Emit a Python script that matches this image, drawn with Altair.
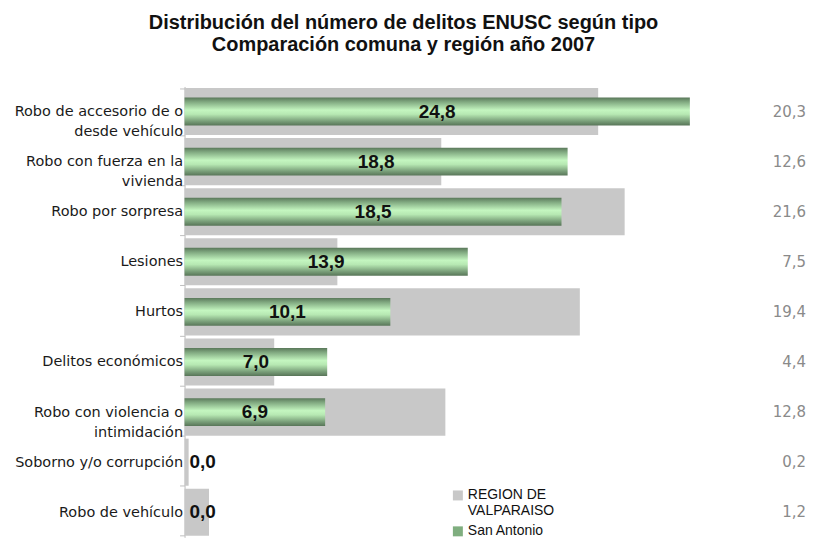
import altair as alt
import pandas as pd

categories = [
    "Robo de accesorio de o|desde vehículo",
    "Robo con fuerza en la|vivienda",
    "Robo por sorpresa",
    "Lesiones",
    "Hurtos",
    "Delitos económicos",
    "Robo con violencia o|intimidación",
    "Soborno y/o corrupción",
    "Robo de vehículo",
]
comuna = [24.8, 18.8, 18.5, 13.9, 10.1, 7.0, 6.9, 0.0, 0.0]
region = [20.3, 12.6, 21.6, 7.5, 19.4, 4.4, 12.8, 0.2, 1.2]
series_names = ["REGION DE|VALPARAISO", "San Antonio"]
series_colors = ["#c8c8c8", "#7fae7f"]

df = pd.DataFrame({"cat": categories, "comuna": comuna, "region": region})
leg = pd.DataFrame({"serie": series_names})

W, H = 623, 452
xs = alt.Scale(domain=[0, 30.5], nice=False, zero=True)
ys = alt.Scale(domain=categories, paddingInner=0.06, paddingOuter=0.03)

y_enc = alt.Y(
    "cat:N",
    scale=ys,
    sort=categories,
    title=None,
    axis=alt.Axis(
        labelExpr="split(datum.label, '|')",
        labelFont="DejaVu Sans",
        labelFontSize=14.5,
        labelColor="#1a1a1a",
        labelLineHeight=20,
        labelLimit=300,
        labelPadding=-3,
        tickBand="extent",
        tickSize=5,
        tickColor="#c0c0c0",
        domainColor="#bdbdbd",
        grid=False,
    ),
)

base = alt.Chart(df)

grey = base.mark_bar(color="#c8c8c8").encode(
    x=alt.X("region:Q", scale=xs, axis=None),
    y=y_enc,
)

green_grad = alt.Gradient(
    gradient="linear",
    x1=0, x2=0, y1=0, y2=1,
    stops=[
        alt.GradientStop(offset=0, color="#5a785a"),
        alt.GradientStop(offset=0.15, color="#7fa77f"),
        alt.GradientStop(offset=0.45, color="#c4f6c0"),
        alt.GradientStop(offset=0.6, color="#b6e8b2"),
        alt.GradientStop(offset=0.85, color="#789d78"),
        alt.GradientStop(offset=1, color="#587558"),
    ],
)

green = base.mark_bar(color=green_grad, size=28).encode(
    x=alt.X("comuna:Q", scale=xs, axis=None),
    y=alt.Y("cat:N", scale=ys, sort=categories),
)

lbl = base.transform_calculate(
    mid="datum.comuna / 2",
    txt="replace(format(datum.comuna, '.1f'), '.', ',')",
)

lbl_in = lbl.transform_filter("datum.comuna > 0").mark_text(
    font="Liberation Sans Narrow, Liberation Sans",
    fontSize=19,
    fontWeight="bold",
    color="#111111",
    align="center",
    baseline="middle",
).encode(
    x=alt.X("mid:Q", scale=xs),
    y=alt.Y("cat:N", scale=ys, sort=categories),
    text="txt:N",
)

lbl_zero = lbl.transform_filter("datum.comuna <= 0").mark_text(
    font="Liberation Sans Narrow, Liberation Sans",
    fontSize=19,
    fontWeight="bold",
    color="#111111",
    align="left",
    baseline="middle",
    dx=5,
).encode(
    x=alt.X("comuna:Q", scale=xs),
    y=alt.Y("cat:N", scale=ys, sort=categories),
    text="txt:N",
)

right_vals = base.transform_calculate(
    txt="replace(format(datum.region, '.1f'), '.', ',')"
).mark_text(
    font="DejaVu Sans",
    fontSize=15,
    color="#8a8a8a",
    align="right",
    baseline="middle",
).encode(
    x=alt.value(W),
    y=alt.Y("cat:N", scale=ys, sort=categories),
    text="txt:N",
)

legend_layer = alt.Chart(leg).mark_square(opacity=0).encode(
    color=alt.Color(
        "serie:N",
        scale=alt.Scale(domain=series_names, range=series_colors),
        legend=alt.Legend(
            title=None,
            orient="none",
            legendX=267,
            legendY=403,
            labelExpr="split(datum.label, '|')",
            labelFont="Liberation Sans",
            labelFontSize=14,
            labelColor="#111111",
            labelLimit=200,
            labelOffset=3,
            symbolType="square",
            symbolSize=100,
            symbolOpacity=1,
            symbolStrokeWidth=0,
            rowPadding=6,
            padding=0,
        ),
    ),
    x=alt.value(0),
    y=alt.value(0),
)

chart = alt.layer(grey, green, lbl_in, lbl_zero, right_vals, legend_layer).properties(
    width=W,
    height=H,
    autosize=alt.AutoSizeParams(type="none"),
    padding={"left": 177, "top": 78, "right": 0, "bottom": 0},
    title=alt.TitleParams(
        text=["Distribución del número de delitos ENUSC según tipo",
              "Comparación comuna y región año 2007"],
        font="Liberation Sans Narrow, Liberation Sans",
        fontSize=20,
        fontWeight="bold",
        color="#111111",
        lineHeight=22,
        anchor="middle",
        dx=-92,
        offset=24,
    ),
).configure_view(stroke=None)

chart.save("out.html", embed_options={"renderer": "svg", "actions": False})
